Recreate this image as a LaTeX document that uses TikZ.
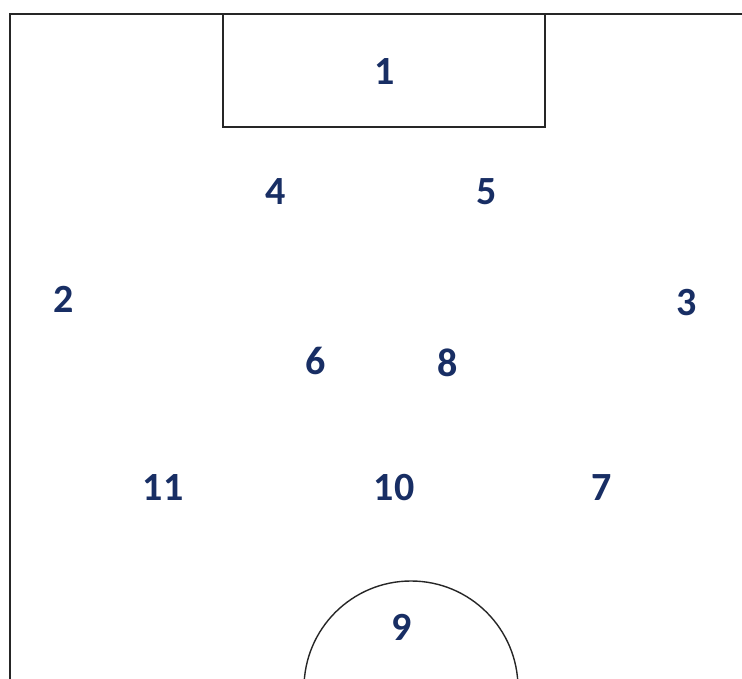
\documentclass[tikz,border=0pt]{standalone}
\usepackage{fontspec}
\setmainfont{Carlito}
\usepackage{tikz}
\definecolor{shirt}{RGB}{24,46,100}

\begin{document}
\begin{tikzpicture}[
  x=1pt, y=-1pt,
  line/.style={draw=black!85, line width=1.4pt},
  player/.style={font=\fontsize{40}{40}\selectfont\bfseries, text=shirt, inner sep=0pt},
]
\useasboundingbox (0,0) rectangle (742,679);
\clip (0,0) rectangle (742,679);

% Pitch lines
\draw[line] (10,690) -- (10,14) -- (750,14);
\draw[line] (223,14) rectangle (545,127);
\draw[line] (411,688) circle (107);

% Players
\node[player] (p1) at (385,72) {1};
\node[player] (p4) at (276,192) {4};
\node[player] (p5) at (487,192) {5};
\node[player] (p2) at (64,299) {2};
\node[player] (p3) at (687,303) {3};
\node[player] (p6) at (316,361) {6};
\node[player] (p8) at (448,363) {8};
\node[player] (p11) at (163,488) {11};
\node[player] (p10) at (394,488) {10};
\node[player] (p7) at (602,488) {7};
\node[player] (p9) at (402,627) {9};

\end{tikzpicture}
\end{document}
